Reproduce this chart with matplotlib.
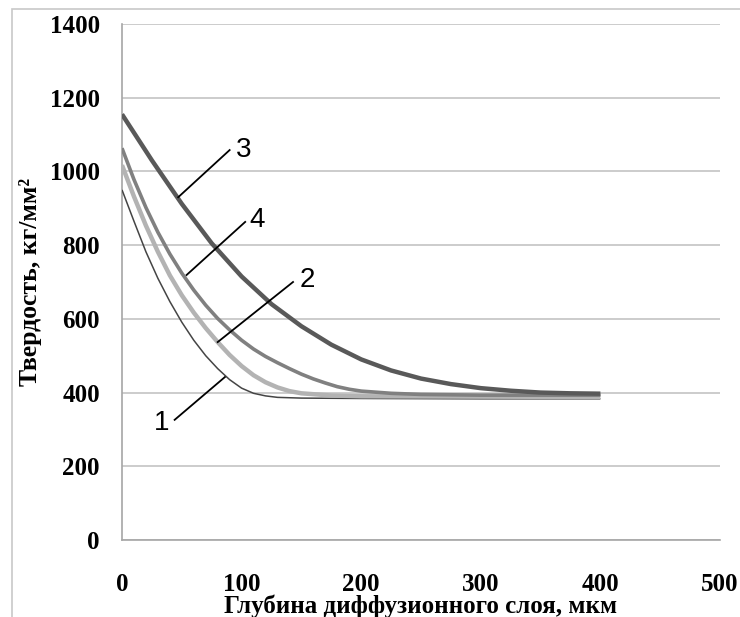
import numpy as np
import matplotlib.pyplot as plt

# --- Data ---
# curve 1: thin dark line
x1 = [0, 10, 20, 30, 40, 50, 60, 70, 80, 90, 100, 110, 120, 130, 150, 200, 300, 400]
y1 = [950, 865, 782, 710, 647, 591, 542, 500, 465, 435, 412, 398, 391, 387, 385, 384, 383, 383]

# curve 2: light gray
x2 = [0, 10, 20, 30, 40, 50, 60, 70, 80, 90, 100, 110, 120, 130, 140, 150, 175, 200, 300, 400]
y2 = [1017, 932, 853, 782, 718, 664, 617, 575, 537, 502, 472, 447, 428, 414, 404, 398, 392, 390, 389, 388]

# curve 3: dark, thick
x3 = [0, 25, 50, 75, 100, 125, 150, 175, 200, 225, 250, 275, 300, 325, 350, 375, 400]
y3 = [1155, 1030, 912, 805, 715, 640, 580, 530, 490, 460, 438, 423, 412, 405, 400, 398, 397]

# curve 4: medium gray
x4 = [0, 10, 20, 30, 40, 50, 60, 70, 80, 90, 100, 110, 120, 130, 140, 150, 160, 170, 180,
      190, 200, 225, 250, 300, 350, 400]
y4 = [1063, 978, 902, 835, 776, 724, 678, 637, 601, 570, 542, 518, 498, 481, 465, 450, 437,
      426, 416, 409, 404, 398, 395, 393, 393, 393]

xticks = [0, 100, 200, 300, 400, 500]
yticks = [0, 200, 400, 600, 800, 1000, 1200, 1400]

# --- Figure ---
fig = plt.figure(figsize=(7.4, 6.17), dpi=100)
ax = fig.add_axes([122 / 740, 77 / 617, 598 / 740, 516 / 617])

# outer chart frame (only left and top edges are visible)
frame = plt.Rectangle((12 / 740, -0.1), 1.2, 1 - 9 / 617 + 0.1, transform=fig.transFigure,
                      fill=False, edgecolor='#c8c8c8', lw=1.2)
fig.add_artist(frame)

grid_col = '#c4c4c4'
ax.set_xlim(0, 500)
ax.set_ylim(0, 1400)
ax.set_xticks(xticks)
ax.set_yticks(yticks)
ax.yaxis.grid(True, color=grid_col, lw=1.2)
ax.set_axisbelow(True)
for s in ['top', 'right']:
    ax.spines[s].set_visible(False)
ax.spines['left'].set_color('#a6a6a6')
ax.spines['bottom'].set_color('#a6a6a6')
ax.spines['left'].set_linewidth(1.2)
ax.spines['bottom'].set_linewidth(1.2)
ax.tick_params(length=0)

serif = ['Liberation Serif', 'DejaVu Serif']
for lab in ax.get_xticklabels() + ax.get_yticklabels():
    lab.set_fontfamily(serif)
    lab.set_fontweight('bold')
    lab.set_fontsize(18)
ax.tick_params(axis='x', pad=24)
ax.tick_params(axis='y', pad=16)

ax.plot(x1, y1, color='#454545', lw=1.1, solid_capstyle='butt', zorder=3)
ax.plot(x2, y2, color='#b3b3b3', lw=3.2, solid_capstyle='butt', zorder=3)
ax.plot(x4, y4, color='#808080', lw=2.6, solid_capstyle='butt', zorder=4)
ax.plot(x3, y3, color='#595959', lw=3.2, solid_capstyle='butt', zorder=5)

# leader lines and curve numbers
leaders = [((47, 930), (90, 1058), (102, 1058), '3'),
           ((54, 719), (103, 863), (113, 868), '4'),
           ((80, 537), (143, 700), (155, 705), '2'),
           ((86, 442), (44, 326), (33, 317), '1')]
for p0, p1, pt, txt in leaders:
    ax.plot([p0[0], p1[0]], [p0[1], p1[1]], color='black', lw=1.3, zorder=6)
    ax.text(pt[0], pt[1], txt, fontsize=20, family=['Liberation Sans', 'DejaVu Sans'],
            ha='center', va='center', zorder=6)

fig.text(421 / 740, 4 / 617, 'Глубина диффузионного слоя, мкм', family=serif,
         fontweight='bold', fontsize=18, ha='center', va='baseline')
fig.text(31 / 740, 1 - 282 / 617, 'Твердость, кг/мм²', family=serif,
         fontweight='bold', fontsize=18.5, ha='center', va='center', rotation=90)

fig.savefig('out.png', dpi=100)
